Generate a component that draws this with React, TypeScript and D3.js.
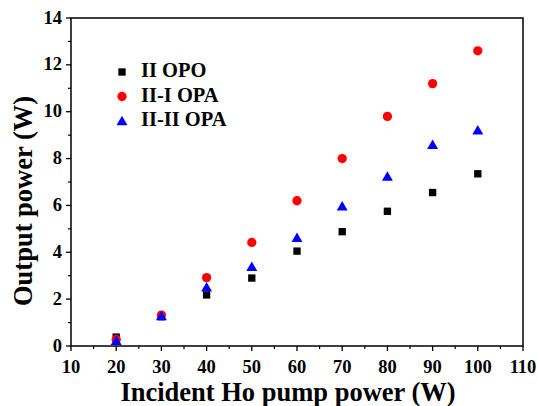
import React from "react";
import * as d3 from "d3";

const pumpPower = [20, 30, 40, 50, 60, 70, 80, 90, 100];
const opoII = [0.38, 1.25, 2.18, 2.9, 4.05, 4.88, 5.75, 6.55, 7.35];
const opaII_I = [0.28, 1.32, 2.92, 4.42, 6.2, 8.0, 9.8, 11.2, 12.6];
const opaII_II = [0.22, 1.28, 2.5, 3.38, 4.62, 5.96, 7.23, 8.59, 9.21];
const xTicks = [10, 20, 30, 40, 50, 60, 70, 80, 90, 100, 110];
const yTicks = [0, 2, 4, 6, 8, 10, 12, 14];
const seriesNames = ["II OPO", "II-I OPA", "II-II OPA"];

const W = 538, H = 406;
const m = { left: 71, right: 523, top: 18, bottom: 346 };
const font = "Liberation Serif, Times New Roman, serif";

export default function App() {
  const x = d3.scaleLinear().domain([10, 110]).range([m.left, m.right]);
  const y = d3.scaleLinear().domain([0, 14]).range([m.bottom, m.top]);
  const xMinor = d3.range(15, 110, 10);
  const yMinor = d3.range(1, 14, 2);
  const tri = d3.symbol().type(d3.symbolTriangle).size(52)();
  const sq = d3.symbol().type(d3.symbolSquare).size(54)();
  const circ = d3.symbol().type(d3.symbolCircle).size(68)();

  const marker = (kind: number, cx: number, cy: number, key: string) => {
    if (kind === 0) return <path key={key} d={sq!} transform={`translate(${cx},${cy})`} fill="#000" />;
    if (kind === 1) return <path key={key} d={circ!} transform={`translate(${cx},${cy})`} fill="#ff0000" />;
    return <path key={key} d={tri!} transform={`translate(${cx},${cy + 1})`} fill="#0000ff" />;
  };

  const series = [opoII, opaII_I, opaII_II];
  const ts = { fontFamily: font, fontWeight: 700 } as React.CSSProperties;

  return (
    <svg width={W} height={H} style={{ position: "absolute", left: 0, top: 0 }}>
      <rect x={0} y={0} width={W} height={H} fill="#fff" />
      <rect x={m.left} y={m.top} width={m.right - m.left} height={m.bottom - m.top} fill="none" stroke="#000" strokeWidth={1.5} />
      {xTicks.map((t) => (
        <g key={"xt" + t}>
          <line x1={x(t)} x2={x(t)} y1={m.bottom} y2={m.bottom + 5} stroke="#000" strokeWidth={1.3} />
          <text x={x(t)} y={m.bottom + 27} textAnchor="middle" style={{ ...ts, fontSize: 18.5 }}>{t}</text>
        </g>
      ))}
      {xMinor.map((t) => (
        <line key={"xm" + t} x1={x(t)} x2={x(t)} y1={m.bottom} y2={m.bottom + 3} stroke="#000" strokeWidth={1.2} />
      ))}
      {yTicks.map((t) => (
        <g key={"yt" + t}>
          <line x1={m.left - 5} x2={m.left} y1={y(t)} y2={y(t)} stroke="#000" strokeWidth={1.3} />
          <text x={m.left - 9} y={y(t) + 5.5} textAnchor="end" style={{ ...ts, fontSize: 18.5 }}>{t}</text>
        </g>
      ))}
      {yMinor.map((t) => (
        <line key={"ym" + t} x1={m.left - 3} x2={m.left} y1={y(t)} y2={y(t)} stroke="#000" strokeWidth={1.2} />
      ))}
      {series.map((s, k) =>
        s.map((v, i) => marker(k, x(pumpPower[i]), y(v), `p${k}-${i}`))
      )}
      {seriesNames.map((n, k) => (
        <g key={"lg" + k}>
          {marker(k, 122, 72 + k * 24.5, "lm" + k)}
          <text x={141} y={77 + k * 24.5} style={{ ...ts, fontSize: 20.5 }}>{n}</text>
        </g>
      ))}
      <text x={288} y={401} textAnchor="middle" style={{ ...ts, fontSize: 26.5 }}>Incident Ho pump power (W)</text>
      <text transform={`translate(32,201) rotate(-90)`} textAnchor="middle" style={{ ...ts, fontSize: 26.5 }}>Output power (W)</text>
    </svg>
  );
}
